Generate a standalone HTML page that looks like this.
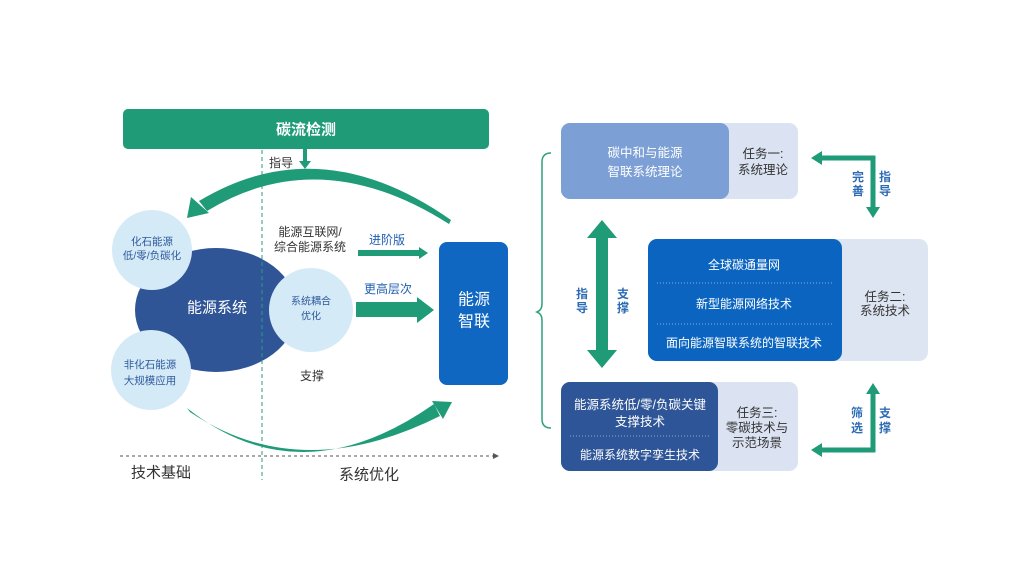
<!DOCTYPE html>
<html><head><meta charset="utf-8"><style>
html,body{margin:0;padding:0;background:#fff;}
svg{display:block;}
text{font-family:"Liberation Sans","Noto Sans CJK SC",sans-serif;}
</style></head><body>
<svg width="1024" height="576" viewBox="0 0 1024 576" xmlns="http://www.w3.org/2000/svg">
<rect width="1024" height="576" fill="#fff"/>
<!-- top bar -->
<rect x="123" y="109" width="366" height="40" rx="5" fill="#1f9b77"/>
<text x="306" y="130" font-size="15" fill="#fff" text-anchor="middle" dominant-baseline="central" font-weight="bold">碳流检测</text>
<!-- small down arrow -->
<rect x="303" y="149" width="4" height="13" fill="#1f9b77"/>
<polygon points="299,161 311,161 305,169" fill="#1f9b77"/>
<text x="281" y="163" font-size="12" fill="#333" text-anchor="middle" dominant-baseline="central">指导</text>

<!-- ellipse -->
<ellipse cx="216" cy="310" rx="81" ry="62" fill="#2f5597"/>
<!-- dashed vertical -->
<line x1="262" y1="150" x2="262" y2="480" stroke="#2a9a86" stroke-width="1" stroke-dasharray="4 3"/>
<!-- circles -->
<circle cx="152" cy="250" r="40" fill="#d5eaf7"/>
<circle cx="151" cy="370" r="40" fill="#d5eaf7"/>
<circle cx="311" cy="310" r="42" fill="#d5eaf7"/>
<text x="152" y="242" font-size="10.5" fill="#2e5a9c" text-anchor="middle" dominant-baseline="central">化石能源</text>
<text x="152" y="256" font-size="10.5" fill="#2e5a9c" text-anchor="middle" dominant-baseline="central">低/零/负碳化</text>
<text x="150" y="365" font-size="10.5" fill="#2e5a9c" text-anchor="middle" dominant-baseline="central">非化石能源</text>
<text x="150" y="381" font-size="10.5" fill="#2e5a9c" text-anchor="middle" dominant-baseline="central">大规模应用</text>
<text x="217" y="308" font-size="15" fill="#fff" text-anchor="middle" dominant-baseline="central">能源系统</text>
<text x="311" y="302" font-size="10" fill="#2e5a9c" text-anchor="middle" dominant-baseline="central">系统耦合</text>
<text x="311" y="317" font-size="10" fill="#2e5a9c" text-anchor="middle" dominant-baseline="central">优化</text>

<text x="310" y="232" font-size="12" fill="#333" text-anchor="middle" dominant-baseline="central">能源互联网/</text>
<text x="310" y="247" font-size="12" fill="#333" text-anchor="middle" dominant-baseline="central">综合能源系统</text>
<text x="312" y="376" font-size="12" fill="#333" text-anchor="middle" dominant-baseline="central">支撑</text>

<!-- top arc -->
<path d="M451,220 Q320,128 199,201 L207,211 Q320,142 449,224 Z" fill="#1f9b77"/>
<polygon points="187,218 191,197 209,213" fill="#1f9b77"/>
<!-- bottom arc -->
<path d="M187,408 Q300,498 434,404 L440,416 Q300,486 190,412 Z" fill="#1f9b77"/>
<polygon points="452,402 432,401 443,419" fill="#1f9b77"/>

<!-- straight arrows -->
<rect x="358" y="250" width="62" height="6" fill="#1f9b77"/>
<polygon points="419,247 428,253 419,259" fill="#1f9b77"/>
<text x="387" y="240" font-size="12" fill="#1f5fb0" text-anchor="middle" dominant-baseline="central">进阶版</text>
<rect x="356" y="302" width="62" height="15" fill="#1f9b77"/>
<polygon points="417,297 434,310 417,323" fill="#1f9b77"/>
<text x="388" y="289" font-size="12" fill="#1f5fb0" text-anchor="middle" dominant-baseline="central">更高层次</text>

<!-- energy box -->
<rect x="439" y="242" width="69" height="143" rx="8" fill="#0f67c1"/>
<text x="474" y="300" font-size="16" fill="#fff" text-anchor="middle" dominant-baseline="central">能源</text>
<text x="474" y="322" font-size="16" fill="#fff" text-anchor="middle" dominant-baseline="central">智联</text>

<!-- axis -->
<line x1="120" y1="456" x2="494" y2="456" stroke="#555" stroke-width="1" stroke-dasharray="3 3"/>
<polygon points="493,453 499,456 493,459" fill="#555"/>
<text x="161" y="473" font-size="15" fill="#333" text-anchor="middle" dominant-baseline="central">技术基础</text>
<text x="369" y="475" font-size="15" fill="#333" text-anchor="middle" dominant-baseline="central">系统优化</text>

<!-- brace -->
<path d="M551,153 Q542,153 542,162 L542,304 Q542,310 537,312 Q542,314 542,320 L542,419 Q542,428 551,428" fill="none" stroke="#2fa07e" stroke-width="1.5"/>

<!-- double arrow -->
<rect x="596" y="236" width="12" height="116" fill="#1f9b77"/>
<polygon points="602,220 587,238 617,238" fill="#1f9b77"/>
<polygon points="602,368 587,350 617,350" fill="#1f9b77"/>
<g font-size="12" fill="#2d6cb5" text-anchor="middle" dominant-baseline="central" font-weight="bold">
<text x="582" y="294">指</text><text x="582" y="308">导</text>
<text x="623" y="294">支</text><text x="623" y="308">撑</text>
</g>

<!-- task 1 -->
<rect x="561" y="123" width="237" height="76" rx="9" fill="#dbe3f2"/>
<rect x="561" y="123" width="168" height="76" rx="9" fill="#7c9fd5"/>
<text x="645" y="153" font-size="12.5" fill="#fff" text-anchor="middle" dominant-baseline="central">碳中和与能源</text>
<text x="645" y="172" font-size="12.5" fill="#fff" text-anchor="middle" dominant-baseline="central">智联系统理论</text>
<text x="763" y="154" font-size="12.5" fill="#333" text-anchor="middle" dominant-baseline="central">任务一:</text>
<text x="763" y="170" font-size="12.5" fill="#333" text-anchor="middle" dominant-baseline="central">系统理论</text>

<!-- top-right bent arrow -->
<path d="M821,158 L873,158 L873,208" fill="none" stroke="#1f9b77" stroke-width="5"/>
<polygon points="811,158 822,151 822,165" fill="#1f9b77"/>
<polygon points="873,218 866,207 880,207" fill="#1f9b77"/>
<g font-size="12" fill="#2d6cb5" text-anchor="middle" dominant-baseline="central" font-weight="bold">
<text x="858" y="177">完</text><text x="858" y="191">善</text>
<text x="885" y="177">指</text><text x="885" y="191">导</text>
</g>

<!-- task 2 -->
<rect x="648" y="239" width="280" height="122" rx="9" fill="#dde5f2"/>
<rect x="648" y="239" width="194" height="122" rx="9" fill="#0b65c0"/>
<line x1="657" y1="283" x2="833" y2="283" stroke="#7fb0e3" stroke-width="1" stroke-dasharray="1 2"/>
<line x1="657" y1="324" x2="833" y2="324" stroke="#7fb0e3" stroke-width="1" stroke-dasharray="1 2"/>
<text x="744" y="265" font-size="12" fill="#fff" text-anchor="middle" dominant-baseline="central">全球碳通量网</text>
<text x="744" y="304" font-size="12" fill="#fff" text-anchor="middle" dominant-baseline="central">新型能源网络技术</text>
<text x="744" y="343" font-size="12" fill="#fff" text-anchor="middle" dominant-baseline="central">面向能源智联系统的智联技术</text>
<text x="885" y="297" font-size="12.5" fill="#333" text-anchor="middle" dominant-baseline="central">任务二:</text>
<text x="885" y="311" font-size="12.5" fill="#333" text-anchor="middle" dominant-baseline="central">系统技术</text>

<!-- task 3 -->
<rect x="561" y="382" width="237" height="89" rx="9" fill="#dbe3f2"/>
<rect x="561" y="382" width="157" height="89" rx="9" fill="#2e5597"/>
<line x1="570" y1="436" x2="710" y2="436" stroke="#8aa3cf" stroke-width="1" stroke-dasharray="1 2"/>
<text x="640" y="405" font-size="12.5" fill="#fff" text-anchor="middle" dominant-baseline="central">能源系统低/零/负碳关键</text>
<text x="640" y="422" font-size="12.5" fill="#fff" text-anchor="middle" dominant-baseline="central">支撑技术</text>
<text x="640" y="455" font-size="12" fill="#fff" text-anchor="middle" dominant-baseline="central">能源系统数字孪生技术</text>
<text x="757" y="413" font-size="12.5" fill="#333" text-anchor="middle" dominant-baseline="central">任务三:</text>
<text x="757" y="428" font-size="12.5" fill="#333" text-anchor="middle" dominant-baseline="central">零碳技术与</text>
<text x="757" y="443" font-size="12.5" fill="#333" text-anchor="middle" dominant-baseline="central">示范场景</text>

<!-- bottom-right bent arrow -->
<path d="M873,393 L873,450 L821,450" fill="none" stroke="#1f9b77" stroke-width="5"/>
<polygon points="873,383 866,394 880,394" fill="#1f9b77"/>
<polygon points="811,450 822,443 822,457" fill="#1f9b77"/>
<g font-size="12" fill="#2d6cb5" text-anchor="middle" dominant-baseline="central" font-weight="bold">
<text x="857" y="413">筛</text><text x="857" y="428">选</text>
<text x="885" y="413">支</text><text x="885" y="428">撑</text>
</g>
</svg>
</body></html>
